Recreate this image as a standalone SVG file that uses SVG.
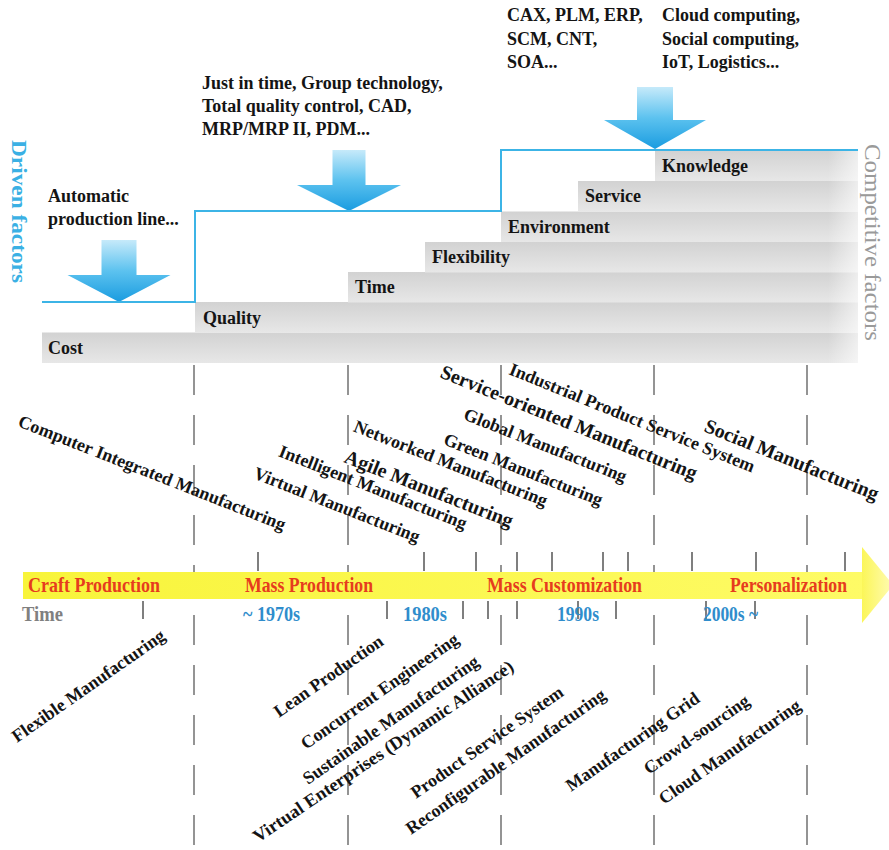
<svg xmlns="http://www.w3.org/2000/svg" width="889" height="850" viewBox="0 0 889 850">
<defs>
  <linearGradient id="rowG" x1="0" y1="0" x2="0" y2="1">
    <stop offset="0" stop-color="#d2d2d2"/><stop offset="1" stop-color="#e7e7e7"/>
  </linearGradient>
  <linearGradient id="arrowG" x1="0" y1="0" x2="0" y2="1">
    <stop offset="0" stop-color="#c6eafa"/><stop offset="0.5" stop-color="#5cc2ef"/><stop offset="1" stop-color="#1a9ce0"/>
  </linearGradient>
  <linearGradient id="bandG" x1="0" y1="0" x2="1" y2="0">
    <stop offset="0" stop-color="#f8f43a"/><stop offset="1" stop-color="#fefb66"/>
  </linearGradient>
  <linearGradient id="headG" x1="0" y1="0" x2="1" y2="0">
    <stop offset="0" stop-color="#fbf658"/><stop offset="1" stop-color="#fffbb4"/>
  </linearGradient>
  <linearGradient id="fadeR" x1="0" y1="0" x2="1" y2="0">
    <stop offset="0" stop-color="#ffffff" stop-opacity="0"/><stop offset="1" stop-color="#ffffff" stop-opacity="0.6"/>
  </linearGradient>
</defs>
<style>
  text{font-family:"Liberation Serif","Times New Roman",serif}
  .b{font-weight:bold;font-size:18px;fill:#141414}
  .b20{font-weight:bold;font-size:20px;fill:#141414}
  .row{fill:url(#rowG)}
  .arrow{fill:url(#arrowG)}
  .dash{stroke:#7a7a7a;stroke-width:1.6;stroke-dasharray:30 20;fill:none}
  .tick{stroke:#555;stroke-width:1.5}
  .era{font-weight:bold;font-size:21px;fill:#e63c1e}
  .dec{font-weight:bold;font-size:20px;fill:#2f8dcc}
  .drive{stroke:#3cb4e6;stroke-width:2;fill:none}
</style>

<g id="label-driven-factors">
  <text transform="translate(12,140) rotate(90)" font-weight="bold" font-size="21" fill="#3ab0e4" textLength="143" lengthAdjust="spacingAndGlyphs">Driven factors</text>
</g>
<g id="label-competitive-factors">
  <text transform="translate(865,144) rotate(90)" font-size="23" fill="#9a9a9a" textLength="197" lengthAdjust="spacingAndGlyphs">Competitive factors</text>
</g>

<g id="step-cost"><rect class="row" x="42" y="332.5" width="816" height="30.5"/><text class="b" x="48" y="354">Cost</text></g>
<g id="step-quality"><rect class="row" x="195" y="302" width="663" height="30.5"/><text class="b" x="203" y="323.5">Quality</text></g>
<g id="step-time"><rect class="row" x="348" y="272" width="510" height="30.5"/><text class="b" x="355" y="293">Time</text></g>
<g id="step-flexibility"><rect class="row" x="425" y="242" width="433" height="30.5"/><text class="b" x="432" y="263">Flexibility</text></g>
<g id="step-environment"><rect class="row" x="501" y="211.5" width="357" height="30.5"/><text class="b" x="508" y="233">Environment</text></g>
<g id="step-service"><rect class="row" x="578" y="181" width="280" height="30.5"/><text class="b" x="585" y="202">Service</text></g>
<g id="step-knowledge"><rect class="row" x="655" y="150" width="203" height="31"/><text class="b" x="662" y="171.5">Knowledge</text></g>
<rect x="828" y="150" width="30" height="213" fill="url(#fadeR)"/>

<g id="driver-automatic">
  <text class="b" x="48" y="202">Automatic</text>
  <text class="b" x="48" y="225">production line...</text>
  <path class="arrow" d="M101.5,240 H136.5 V275 H170.5 L119,302 L67.5,275 H101.5 Z"/>
</g>
<g id="driver-jit">
  <text class="b" x="202" y="89">Just in time, Group technology,</text>
  <text class="b" x="202" y="112">Total quality control, CAD,</text>
  <text class="b" x="202" y="134.5">MRP/MRP II, PDM...</text>
  <path class="arrow" d="M332.5,150 H365.5 V185 H401 L349,211 L297,185 H332.5 Z"/>
</g>
<g id="driver-cax">
  <text class="b" x="507" y="21">CAX, PLM, ERP,</text>
  <text class="b" x="507" y="44.5">SCM, CNT,</text>
  <text class="b" x="507" y="68">SOA...</text>
</g>
<g id="driver-cloud">
  <text class="b" x="662" y="21">Cloud computing,</text>
  <text class="b" x="662" y="44.5">Social computing,</text>
  <text class="b" x="662" y="68">IoT, Logistics...</text>
  <path class="arrow" d="M637,87 H673 V120 H706 L655,149 L604,120 H637 Z"/>
</g>

<g id="connectors">
  <path class="drive" d="M42,302 H195 V211 H501 V150 H858"/>
  <line class="dash" x1="194" y1="365" x2="194" y2="850"/>
  <line class="dash" x1="348" y1="365" x2="348" y2="850"/>
  <line class="dash" x1="501" y1="365" x2="501" y2="850"/>
  <line class="dash" x1="654" y1="365" x2="654" y2="850"/>
  <line class="dash" x1="807" y1="365" x2="807" y2="850"/>
</g>

<g id="paradigms-upper" class="b">
  <text transform="translate(17,426) rotate(21.5)">Computer Integrated Manufacturing</text>
  <text transform="translate(252.5,478) rotate(21.5)">Virtual Manufacturing</text>
  <text transform="translate(277.5,456) rotate(21.5)">Intelligent Manufacturing</text>
  <text class="b20" transform="translate(343,462) rotate(21.5)">Agile Manufacturing</text>
  <text transform="translate(352.5,431) rotate(21.5)">Networked Manufacturing</text>
  <text transform="translate(442.5,444) rotate(21.5)">Green Manufacturing</text>
  <text transform="translate(462.5,419) rotate(21.5)">Global Manufacturing</text>
  <text class="b20" transform="translate(439,377) rotate(22)">Service-oriented Manufacturing</text>
  <text transform="translate(508,374) rotate(22)">Industrial Product Service System</text>
  <text class="b20" transform="translate(703,431) rotate(22)">Social Manufacturing</text>
</g>

<g id="timeline">
  <rect x="23" y="572" width="842" height="27" fill="url(#bandG)"/>
  <polygon points="862,547 893,585 862,623" fill="url(#headG)"/>
  <g class="tick">
    <line x1="258" y1="552" x2="258" y2="571"/><line x1="424" y1="552" x2="424" y2="571"/>
    <line x1="476" y1="552" x2="476" y2="571"/><line x1="517" y1="552" x2="517" y2="571"/>
    <line x1="552" y1="552" x2="552" y2="571"/><line x1="603" y1="552" x2="603" y2="571"/>
    <line x1="628" y1="552" x2="628" y2="571"/><line x1="692" y1="552" x2="692" y2="571"/>
    <line x1="756" y1="552" x2="756" y2="571"/><line x1="845" y1="552" x2="845" y2="571"/>
    <line x1="143" y1="601" x2="143" y2="619"/><line x1="387" y1="601" x2="387" y2="619"/>
    <line x1="463" y1="601" x2="463" y2="619"/><line x1="488" y1="601" x2="488" y2="619"/>
    <line x1="517" y1="601" x2="517" y2="619"/><line x1="578" y1="601" x2="578" y2="619"/>
    <line x1="616" y1="601" x2="616" y2="619"/><line x1="706" y1="601" x2="706" y2="619"/>
    <line x1="755" y1="601" x2="755" y2="619"/>
  </g>
  <text class="era" x="28" y="592" textLength="132" lengthAdjust="spacingAndGlyphs">Craft Production</text>
  <text class="era" x="245" y="592" textLength="128" lengthAdjust="spacingAndGlyphs">Mass Production</text>
  <text class="era" x="487" y="592" textLength="155" lengthAdjust="spacingAndGlyphs">Mass Customization</text>
  <text class="era" x="730" y="592" textLength="117" lengthAdjust="spacingAndGlyphs">Personalization</text>
  <text x="22" y="621" font-weight="bold" font-size="20" fill="#808080" textLength="41" lengthAdjust="spacingAndGlyphs">Time</text>
  <text class="dec" x="243" y="621" textLength="57" lengthAdjust="spacingAndGlyphs">~ 1970s</text>
  <text class="dec" x="403" y="621" textLength="44" lengthAdjust="spacingAndGlyphs">1980s</text>
  <text class="dec" x="557" y="621" textLength="42" lengthAdjust="spacingAndGlyphs">1990s</text>
  <text class="dec" x="703" y="621" textLength="55" lengthAdjust="spacingAndGlyphs">2000s ~</text>
</g>

<g id="paradigms-lower" class="b">
  <text transform="translate(17,743) rotate(-35)">Flexible Manufacturing</text>
  <text transform="translate(279,718) rotate(-35)">Lean Production</text>
  <text transform="translate(306,750) rotate(-35)">Concurrent Engineering</text>
  <text transform="translate(308,785) rotate(-35)">Sustainable Manufacturing</text>
  <text transform="translate(258,843) rotate(-34)" textLength="310" lengthAdjust="spacingAndGlyphs">Virtual Enterprises (Dynamic Alliance)</text>
  <text transform="translate(416,799) rotate(-35)">Product Service System</text>
  <text transform="translate(411,835) rotate(-35)">Reconfigurable Manufacturing</text>
  <text transform="translate(571,792) rotate(-35)">Manufacturing Grid</text>
  <text transform="translate(649,775) rotate(-35)">Crowd-sourcing</text>
  <text transform="translate(664,805) rotate(-35)">Cloud Manufacturing</text>
</g>
</svg>
